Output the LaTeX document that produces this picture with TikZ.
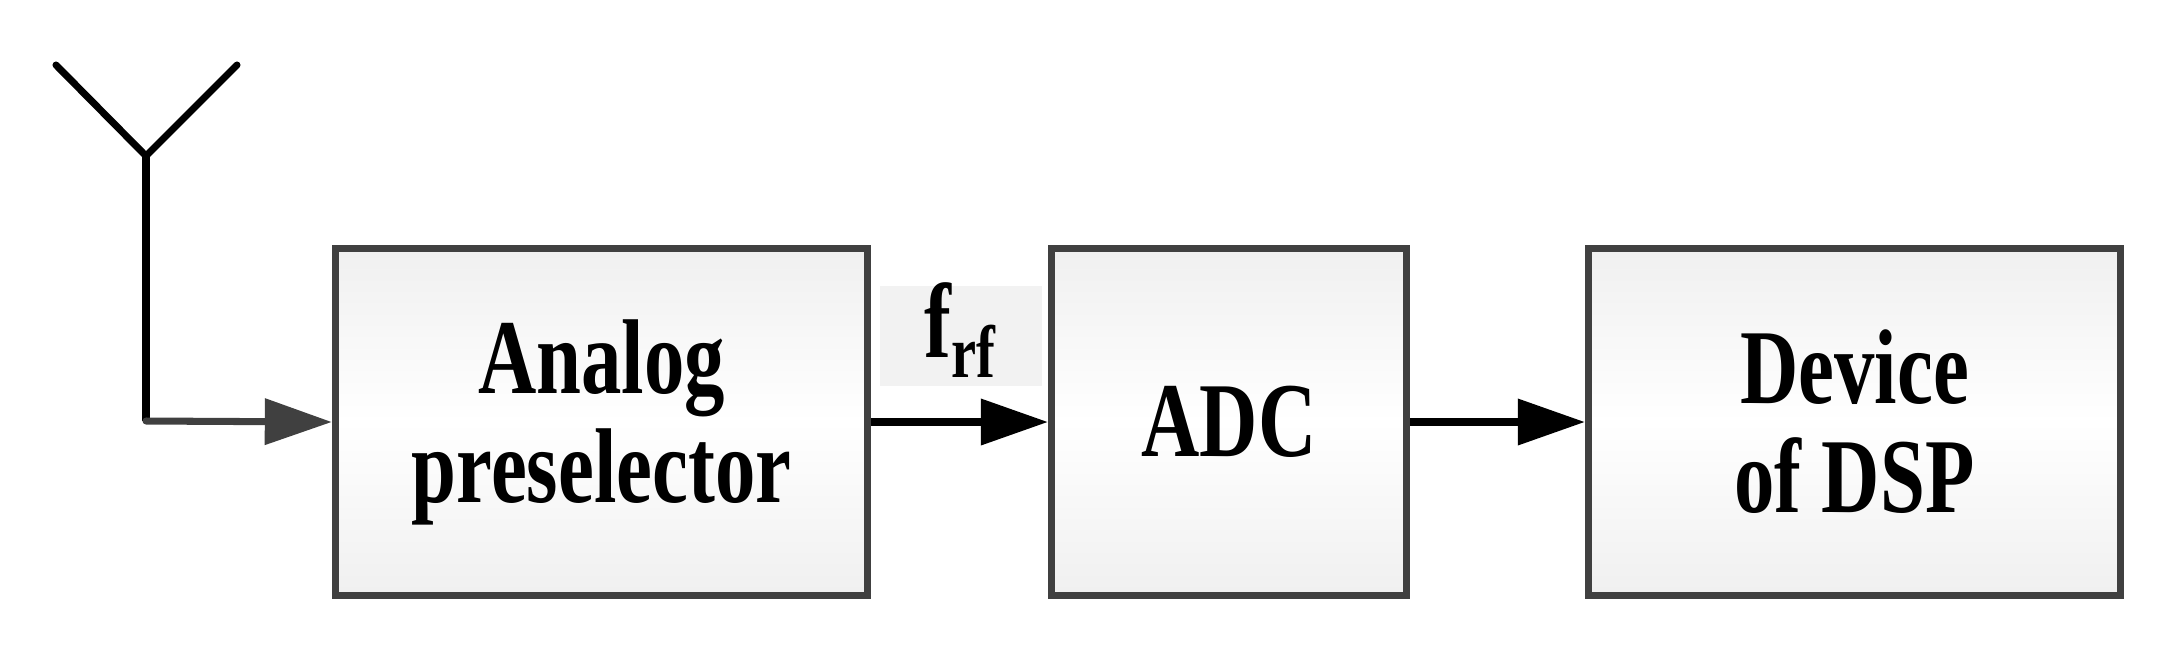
\documentclass[tikz,border=0pt]{standalone}
\usepackage{fontspec}
\setmainfont{Liberation Serif}
\usetikzlibrary{arrows.meta}
\definecolor{bd}{HTML}{404040}
\newcommand{\tallt}[1]{\scalebox{0.82}[1.08]{#1}}
\begin{document}
\begin{tikzpicture}[x=0.01cm,y=-0.01cm,
  blk/.style={draw=bd,line width=2pt,top color=gray!12,bottom color=gray!12,middle color=white,
    minimum width=5.32cm,minimum height=3.47cm,font=\fontsize{28}{31}\selectfont\bfseries,align=center,inner sep=0pt},
  arr/.style={line width=2pt,-{Triangle[length=0.67cm,width=0.45cm]}}]
\useasboundingbox (0,0) rectangle (2173,657);
\node[blk] (a) at (601.5,422) {\tallt{Analog}\\[0pt]\tallt{preselector}};
\node[blk,minimum width=3.55cm] (b) at (1229,422) {\tallt{ADC}};
\node[blk] (c) at (1854.5,422) {\tallt{Device}\\[0pt]\tallt{of DSP}};
\fill[gray!10] (880,286) rectangle (1042,386);
\node[font=\fontsize{28}{31}\selectfont\bfseries] (f) at (961,330) {\tallt{f\textsubscript{rf}}};
\coordinate (l) at (56,65); \coordinate (r) at (237,65); \coordinate (j) at (146,156); \coordinate (k) at (146,421);
\draw[line width=2pt,line cap=round] (l) -- (j) -- (r);
\draw[line width=2pt] (j) -- (k);
\draw[arr,bd,line cap=round] (k) -- (a.west);
\draw[arr] (a.east) -- (b.west);
\draw[arr] (b.east) -- (c.west);
\end{tikzpicture}
\end{document}
